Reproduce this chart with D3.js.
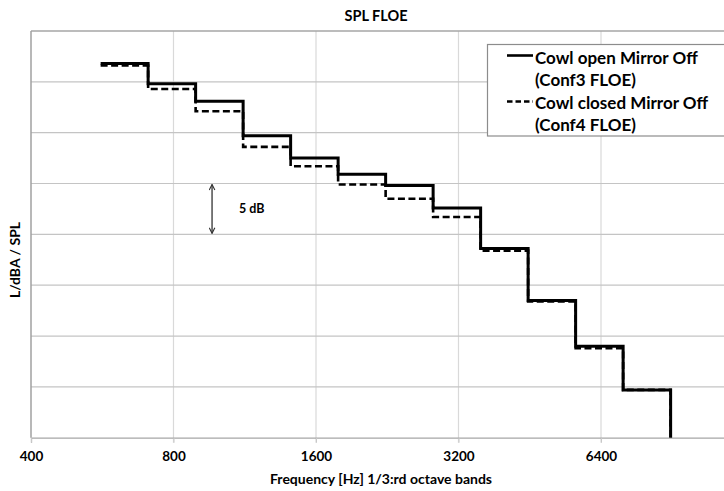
<!DOCTYPE html>
<html lang="en">
<head>
<meta charset="utf-8">
<title>SPL FLOE</title>
<script src="https://d3js.org/d3.v7.min.js"></script>
<style>
  body { margin: 0; background: #fff; }
  svg text { font-family: Lato, "Open Sans", sans-serif; font-weight: bold; fill: #000; }
</style>
</head>
<body>
<svg width="724" height="491"></svg>
<script>
  // 1/3 octave band centre frequencies (Hz)
  var bands = [630, 800, 1000, 1250, 1600, 2000, 2500, 3150, 4000, 5000, 6300, 8000];
  // levels (dB, arbitrary reference)
  var cowlOpen   = [76.8, 74.8, 73.1, 69.7, 67.5, 65.9, 64.8, 62.6, 58.6, 53.5, 49.0, 44.7];
  var cowlClosed = [76.6, 74.3, 72.1, 68.6, 66.7, 64.9, 63.5, 61.7, 58.4, 53.4, 48.8, 44.7];
  var xTicks = [400, 800, 1600, 3200, 6400];
  var seriesNames = [
    ["Cowl open Mirror Off", "(Conf3 FLOE)"],
    ["Cowl closed Mirror Off", "(Conf4 FLOE)"]
  ];

  var svg = d3.select("svg");
  var plotL = 31, plotT = 31, plotB = 437.7;

  // one octave is ~142.5 px; the plot runs past the right edge of the picture
  var x = d3.scaleLog().base(2).domain([400, 12800]).range([plotL, plotL + 5 * 142.5]);
  var y = d3.scaleLinear().domain([40, 80]).range([plotB, plotT]);

  // exact band edges from nominal centres
  function edges(f) {
    var n = Math.round(3 * Math.log2(f / 1000));
    var c = 1000 * Math.pow(2, n / 3);
    return [c / Math.pow(2, 1 / 6), c * Math.pow(2, 1 / 6)];
  }

  // grid
  svg.append("g")
    .selectAll("line")
    .data(xTicks.slice(1))
    .join("line")
      .attr("x1", function(d){ return x(d); })
      .attr("x2", function(d){ return x(d); })
      .attr("y1", plotT).attr("y2", plotB + 5)
      .attr("stroke", "#d9d9d9").attr("stroke-width", 1.2);

  svg.append("g")
    .selectAll("line")
    .data(d3.range(45, 80, 5))
    .join("line")
      .attr("x1", plotL).attr("x2", 724)
      .attr("y1", function(d){ return y(d); })
      .attr("y2", function(d){ return y(d); })
      .attr("stroke", "#c4c4c4").attr("stroke-width", 1.2);

  // frame
  svg.append("line").attr("x1", plotL).attr("x2", 724).attr("y1", plotT).attr("y2", plotT)
    .attr("stroke", "#a6a6a6").attr("stroke-width", 1.3);
  svg.append("line").attr("x1", plotL).attr("x2", plotL).attr("y1", plotT).attr("y2", plotB)
    .attr("stroke", "#a0a0a0").attr("stroke-width", 1.5);

  var xAxis = svg.append("g")
    .attr("transform", "translate(0," + plotB + ")")
    .call(d3.axisBottom(x).tickValues(xTicks).tickFormat(d3.format("d")).tickSize(5).tickPadding(9));
  xAxis.select(".domain").attr("stroke", "#a6a6a6").attr("stroke-width", 1.3);
  xAxis.selectAll(".tick line").attr("stroke", "#c8c8c8");
  xAxis.selectAll("text")
    .style("font-family", "Lato, sans-serif").style("font-weight", "bold")
    .attr("font-size", 13.5).attr("fill", "#000");

  // step lines
  function stepPoints(vals) {
    var pts = bands.map(function(f, i){ return [edges(f)[0], vals[i]]; });
    pts.push([edges(bands[bands.length - 1])[1], y.domain()[0]]);
    return pts;
  }
  var line = d3.line()
    .x(function(d){ return x(d[0]); })
    .y(function(d){ return y(d[1]); })
    .curve(d3.curveStepAfter);

  svg.append("path")
    .attr("d", line(stepPoints(cowlOpen)))
    .attr("fill", "none").attr("stroke", "#000").attr("stroke-width", 3);
  svg.append("path")
    .attr("d", line(stepPoints(cowlClosed)))
    .attr("fill", "none").attr("stroke", "#000").attr("stroke-width", 2.6)
    .attr("stroke-dasharray", "7,3.5");

  // 5 dB marker
  var markF = 965, markTop = 65, markBot = 60;
  svg.append("defs").append("marker")
    .attr("id", "head").attr("viewBox", "0 0 10 10")
    .attr("refX", 9).attr("refY", 5)
    .attr("markerWidth", 7).attr("markerHeight", 7)
    .attr("orient", "auto-start-reverse")
    .attr("markerUnits", "userSpaceOnUse")
    .append("path").attr("d", "M1,1L9,5L1,9")
    .attr("fill", "none").attr("stroke", "#333").attr("stroke-width", 1.6);
  svg.append("line")
    .attr("x1", x(markF)).attr("x2", x(markF))
    .attr("y1", y(markTop) + 1).attr("y2", y(markBot) - 1)
    .attr("stroke", "#333").attr("stroke-width", 1.3)
    .attr("marker-start", "url(#head)").attr("marker-end", "url(#head)");
  svg.append("text")
    .attr("x", x(markF) + 27).attr("y", (y(markTop) + y(markBot)) / 2 + 4)
    .attr("font-size", 12.5).text("5 dB");

  // titles
  svg.append("text").attr("x", 376).attr("y", 20.5).attr("text-anchor", "middle")
    .attr("font-size", 14.5).text("SPL FLOE");
  svg.append("text").attr("x", 381).attr("y", 484).attr("text-anchor", "middle")
    .attr("font-size", 14).text("Frequency [Hz] 1/3:rd octave bands");
  svg.append("text").attr("transform", "translate(20,260) rotate(-90)")
    .attr("text-anchor", "middle").attr("font-size", 14).text("L/dBA / SPL");

  // legend
  var lg = svg.append("g");
  lg.append("rect").attr("x", 487.5).attr("y", 44.5).attr("width", 250).attr("height", 91.5)
    .attr("fill", "#fff").attr("stroke", "#8c8c8c").attr("stroke-width", 1.2);
  var rows = [[55.5, 64, 85.5], [101.5, 109, 130.5]];
  seriesNames.forEach(function(names, i) {
    lg.append("line").attr("x1", 507).attr("x2", 533)
      .attr("y1", rows[i][0]).attr("y2", rows[i][0])
      .attr("stroke", "#000").attr("stroke-width", i ? 2.4 : 2.6)
      .attr("stroke-dasharray", i ? "5.5,3" : null);
    lg.append("text").attr("x", 535).attr("y", rows[i][1]).attr("font-size", 17).text(names[0]);
    lg.append("text").attr("x", 535).attr("y", rows[i][2]).attr("font-size", 17).text(names[1]);
  });
</script>
</body>
</html>
